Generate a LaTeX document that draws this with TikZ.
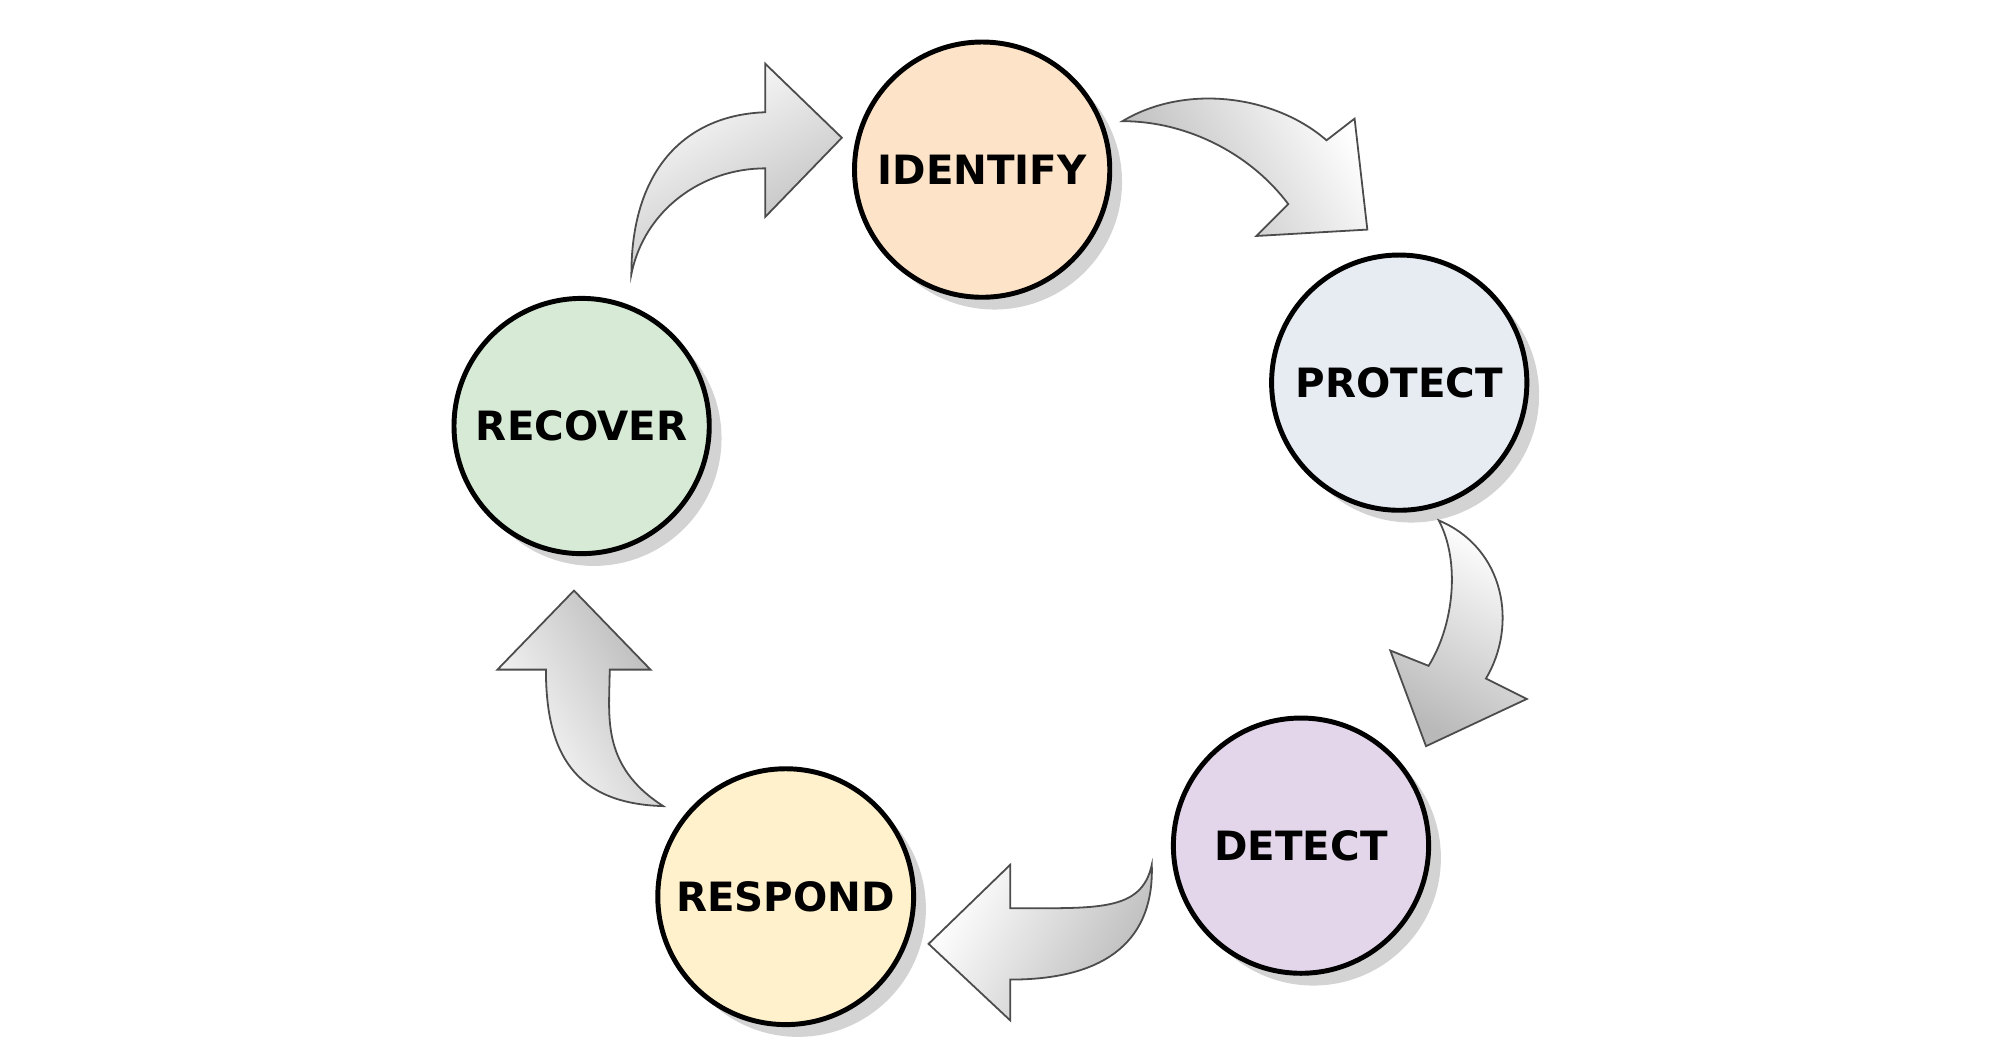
\documentclass[tikz,border=0pt]{standalone}
\usepackage{fontspec}
\setmainfont{DejaVu Sans}
\usetikzlibrary{shadows}
\definecolor{cIdentify}{HTML}{FDE3C8}
\definecolor{cProtect}{HTML}{E7EBF2}
\definecolor{cDetect}{HTML}{E3D6EA}
\definecolor{cRespond}{HTML}{FFF1CC}
\definecolor{cRecover}{HTML}{D6EAD6}
\tikzset{
  phase/.style={circle, draw=black, line width=1.1pt, minimum size=2cm,
    font=\bfseries\fontsize{9}{10}\selectfont, drop shadow={opacity=0.35}},
  bigarrow/.style={draw=gray!60!black, line width=0.4pt, top color=white,
    bottom color=gray!55, shading angle=#1},
  bigarrow/.default=0
}
\begin{document}
\begin{tikzpicture}[x=0.01cm,y=-0.01cm]
        \useasboundingbox (0,0) rectangle (1568,818);

        \node[phase, fill=cIdentify] (identify) at (770,133) {IDENTIFY};
        \node[phase, fill=cProtect] (protect) at (1097,300) {PROTECT};
        \node[phase, fill=cDetect] (detect) at (1020,663) {DETECT};
        \node[phase, fill=cRespond] (respond) at (616,703) {RESPOND};
        \node[phase, fill=cRecover] (recover) at (456,334) {RECOVER};

        % block arrows between the phases
        \path[bigarrow=30] (495,215) .. controls (495,130) and (540,90) .. (600,88)
          -- (600,50) -- (660,108) -- (600,170) -- (600,132)
          .. controls (550,132) and (505,165) .. cycle;
        \path[bigarrow=-60] (880,95) .. controls (930,65) and (1000,75) .. (1040,110)
          -- (1062,93) -- (1072,180) -- (985,185) -- (1010,160)
          .. controls (980,120) and (930,95) .. cycle;
        \path[bigarrow=-30] (1128,408) .. controls (1180,430) and (1190,490) .. (1165,532)
          -- (1197,548) -- (1118,585) -- (1090,510) -- (1120,522)
          .. controls (1140,490) and (1145,440) .. cycle;
        \path[bigarrow=60] (903,678) .. controls (895,715) and (860,712) .. (792,712)
          -- (792,678) -- (728,740) -- (792,800) -- (792,768)
          .. controls (870,768) and (905,735) .. cycle;
        \path[bigarrow=120] (520,632) .. controls (470,600) and (478,560) .. (478,525)
          -- (510,525) -- (450,463) -- (390,525) -- (428,525)
          .. controls (428,590) and (450,630) .. cycle;
\end{tikzpicture}
\end{document}
